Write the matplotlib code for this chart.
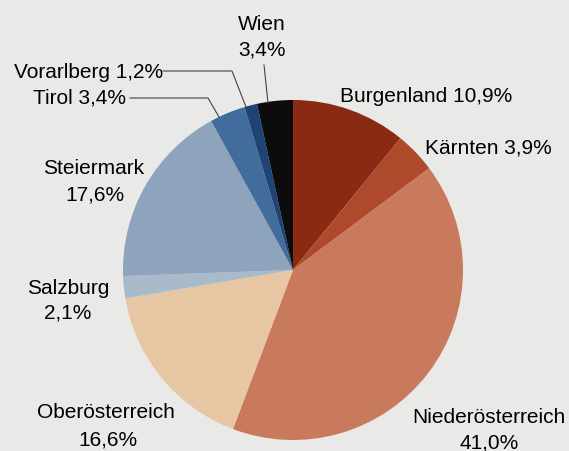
import matplotlib
matplotlib.use("Agg")
import matplotlib.pyplot as plt

# Bundesländer shares (%)
regions = ['Burgenland', 'Kärnten', 'Niederösterreich', 'Oberösterreich',
           'Salzburg', 'Steiermark', 'Tirol', 'Vorarlberg', 'Wien']
shares = [10.9, 3.9, 41.0, 16.6, 2.1, 17.6, 3.4, 1.2, 3.4]
share_labels = ['10,9%', '3,9%', '41,0%', '16,6%', '2,1%', '17,6%', '3,4%', '1,2%', '3,4%']

colors = ['#8a2a12', '#ae4a2b', '#c97a5c', '#e7c6a4', '#a9bac9',
          '#8ea4bd', '#416c9b', '#1e4374', '#0c0c0c']

W, H = 569, 452
plt.rcParams['font.family'] = ['Liberation Sans', 'DejaVu Sans']
fig = plt.figure(figsize=(W / 100, H / 100), dpi=100, facecolor='#e9e9e7')
ax = fig.add_axes([0, 0, 1, 1])
ax.set_facecolor('#e9e9e7')
ax.set_xlim(0, W)
ax.set_ylim(0, H)
ax.set_aspect('equal')
ax.axis('off')

def Y(y):
    return H - y

ax.pie(shares, colors=colors, startangle=90, counterclock=False,
       center=(293, Y(271)), radius=170, frame=True,
       wedgeprops=dict(linewidth=0))
ax.set_xlim(0, W)
ax.set_ylim(0, H)
ax.axis('off')

fs = 15
ax.text(262, Y(24), 'Wien', ha='center', va='center', fontsize=fs)
ax.text(262, Y(50), share_labels[8], ha='center', va='center', fontsize=fs)
ax.text(14, Y(72), 'Vorarlberg ' + share_labels[7], ha='left', va='center', fontsize=fs)
ax.text(33, Y(98), 'Tirol ' + share_labels[6], ha='left', va='center', fontsize=fs)
ax.text(340, Y(97), 'Burgenland ' + share_labels[0], ha='left', va='center', fontsize=fs)
ax.text(425, Y(148), 'Kärnten ' + share_labels[1], ha='left', va='center', fontsize=fs)
ax.text(94, Y(168), 'Steiermark', ha='center', va='center', fontsize=fs)
ax.text(95, Y(195), share_labels[5], ha='center', va='center', fontsize=fs)
ax.text(68, Y(288), 'Salzburg', ha='center', va='center', fontsize=fs)
ax.text(68, Y(313), share_labels[4], ha='center', va='center', fontsize=fs)
ax.text(106, Y(413), 'Oberösterreich', ha='center', va='center', fontsize=fs)
ax.text(108, Y(440), share_labels[3], ha='center', va='center', fontsize=fs)
ax.text(489, Y(418), 'Niederösterreich', ha='center', va='center', fontsize=fs)
ax.text(489, Y(443), share_labels[2], ha='center', va='center', fontsize=fs)

# leader lines
lc = '#444444'
ax.plot([163, 232, 246], [Y(72), Y(72), Y(108)], color=lc, lw=0.8)
ax.plot([130, 208, 219], [Y(99), Y(99), Y(118)], color=lc, lw=0.8)
ax.plot([264, 268], [Y(66), Y(104)], color=lc, lw=0.8)

fig.savefig('out.png', dpi=100, facecolor=fig.get_facecolor())
